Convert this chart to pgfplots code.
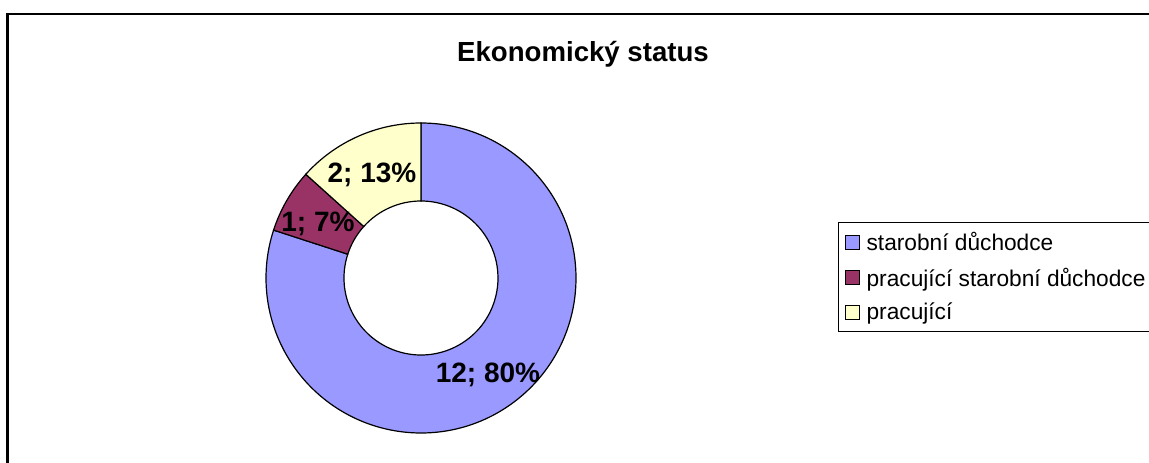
\documentclass[border=0pt]{standalone}
\usepackage{pgfplots}
\pgfplotsset{compat=1.18}
\usepackage{fontspec}
\setmainfont{Liberation Sans}
\definecolor{cblue}{HTML}{9999FF}
\definecolor{cpurple}{HTML}{993366}
\definecolor{cyellow}{HTML}{FFFFCC}
\pgfplotsset{sqlegend/.style={legend image code/.code={\filldraw[##1] (0pt,-7pt) rectangle (14pt,7pt);}}}
% donut geometry (pt): centre, outer and inner radius
\def\cx{421}\def\cy{185}\def\ro{155}\def\ri{77}
\def\total{15}
% \slice{values before}{value}{colour}
\newcommand\slice[3]{%
  \pgfmathsetmacro\sa{90-360*#1/\total}%
  \pgfmathsetmacro\sb{90-360*(#1+#2)/\total}%
  \edef\doslice{\noexpand\filldraw[fill=#3, draw=black, line width=1.2pt]
    (axis cs:\cx,\cy) ++(\sa:\ro pt) arc[start angle=\sa, end angle=\sb, radius=\ro pt]
    -- ++(\sb+180:\ro pt-\ri pt) arc[start angle=\sb, end angle=\sa, radius=\ri pt] -- cycle;}%
  \doslice
}
\begin{document}
\begin{tikzpicture}
\begin{axis}[
  name=ax,
  x=1pt, y=1pt,
  xmin=0, xmax=1149, ymin=0, ymax=463,
  hide axis,
  clip=true,
  legend style={at={(axis cs:838,241)}, anchor=north west, draw=black, line width=1.2pt,
    font=\fontsize{22.7}{26}\selectfont, cells={anchor=west},
    inner xsep=6pt, inner ysep=8pt, row sep=11.5pt, column sep=5pt},
]
\fill[white] (axis cs:0,0) rectangle (axis cs:1149,463);
% chart frame
\draw[black, line width=2.5pt] (axis cs:7.5,-20) -- (axis cs:7.5,449) -- (axis cs:1170,449);
\node[font=\bfseries\fontsize{27.6}{32}\selectfont] at (axis cs:583,409) {Ekonomický status};
% values: 12, 1, 2 (total 15)
\slice{0}{12}{cblue}
\slice{12}{1}{cpurple}
\slice{13}{2}{cyellow}
\node[font=\bfseries\fontsize{28}{32}\selectfont] at (axis cs:488,88) {12; 80\%};
\node[font=\bfseries\fontsize{28}{32}\selectfont] at (axis cs:318,239) {1; 7\%};
\node[font=\bfseries\fontsize{28}{32}\selectfont] at (axis cs:372,288) {2; 13\%};
\addlegendimage{sqlegend, fill=cblue, draw=black, line width=1pt}
\addlegendentry{starobní důchodce}
\addlegendimage{sqlegend, fill=cpurple, draw=black, line width=1pt}
\addlegendentry{pracující starobní důchodce}
\addlegendimage{sqlegend, fill=cyellow, draw=black, line width=1pt}
\addlegendentry{pracující}
\end{axis}
\pgfresetboundingbox
\path (ax.south west) rectangle (ax.north east);
\end{tikzpicture}
\end{document}
